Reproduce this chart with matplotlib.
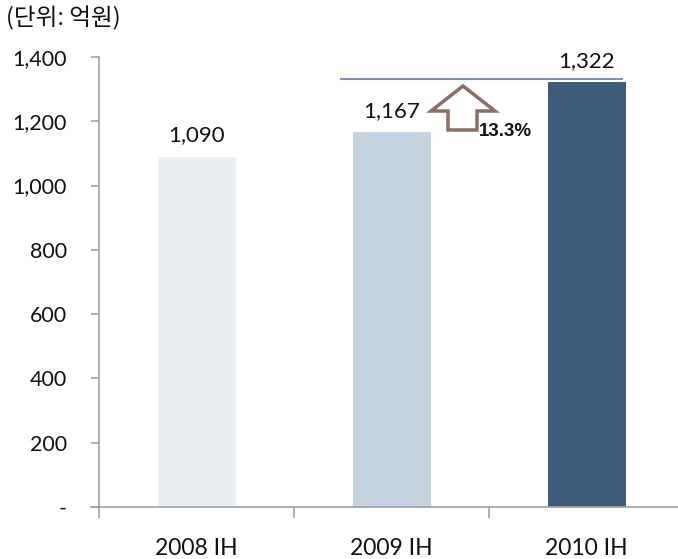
import matplotlib
matplotlib.use("Agg")
import matplotlib.pyplot as plt
from matplotlib.patches import Polygon
from matplotlib.ticker import FixedLocator, FuncFormatter

categories = ["2008 IH", "2009 IH", "2010 IH"]
values = [1090, 1167, 1322]
labels = ["1,090", "1,167", "1,322"]
colors = ["#E9EEF3", "#C3D3E0", "#3E5C78"]
yticks = [0, 200, 400, 600, 800, 1000, 1200, 1400]
growth_label = "13.3%"
unit_label = "(단위: 억원)"

plt.rcParams['font.family'] = ['Lato', 'Noto Sans CJK KR', 'DejaVu Sans']

W, H = 678, 559
fig = plt.figure(figsize=(W/100, H/100), dpi=100)
x0, x1 = 99, 684
y0 = 507
ytop = 57
ypx_per = (y0 - ytop) / 1400
ax = fig.add_axes([x0/W, 1 - y0/H, (x1-x0)/W, (y0-ytop)/H])
ax.set_xlim(0, 3)
ax.set_ylim(0, 1400)

xs = [0.5, 1.5, 2.5]
ax.bar(xs, values, width=0.4, color=colors, zorder=2)

for x, v, l in zip(xs, values, labels):
    ax.annotate(l, (x, v), xytext=(0, 11), textcoords='offset points',
                ha='center', va='baseline', fontsize=16, color='#111111')

for s in ['top', 'right']:
    ax.spines[s].set_visible(False)
for s in ['left', 'bottom']:
    ax.spines[s].set_color('#A0A0A0')
    ax.spines[s].set_linewidth(1.2)
ax.spines['left'].set_bounds(0, 1400)

ax.yaxis.set_major_locator(FixedLocator(yticks))
ax.yaxis.set_major_formatter(FuncFormatter(lambda v, p: '-' if v == 0 else f"{int(v):,}"))
ax.tick_params(axis='y', direction='out', length=6, width=1.2, color='#A0A0A0',
               labelsize=15.5, pad=17, labelcolor='#111111')
ax.set_xticks([0, 1, 2, 3])
ax.set_xticklabels([])
ax.set_xticks(xs, minor=True)
ax.set_xticklabels(categories, minor=True)
ax.tick_params(axis='x', which='major', direction='out', length=8, width=1.2, color='#A0A0A0')
ax.tick_params(axis='x', which='minor', length=0, labelsize=16.5, pad=22, labelcolor='#111111')

ax.plot([-0.04, 0], [0, 0], color='#A0A0A0', lw=1.2, clip_on=False)

# horizontal reference line at 2010 level
ax.plot([1.24, 2.68], [1330, 1330], color='#8090B4', lw=1.5, zorder=3, clip_on=False)

def px_to_data(px, py):
    return ((px - x0) / ((x1 - x0) / 3), (y0 - py) / ypx_per)

pts_px = [(448, 130), (448, 111), (431, 111), (463, 86), (495, 111), (477, 111), (477, 130)]
pts = [px_to_data(*p) for p in pts_px]
ax.add_patch(Polygon(pts, closed=True, fill=False, edgecolor='#8B6F66', lw=2.5, zorder=4,
                     joinstyle='miter'))
gx, gy = px_to_data(479, 132)
ax.text(gx, gy, growth_label, ha='left', va='center', fontsize=13.5, fontweight='bold',
        family=['Liberation Sans', 'DejaVu Sans'], color='#111111')

fig.text(6/W, 1 - 18/H, unit_label, ha='left', va='center', fontsize=17,
         family=['Noto Sans CJK KR', 'DejaVu Sans'], color='#111111')

fig.savefig("out.png", dpi=100)
